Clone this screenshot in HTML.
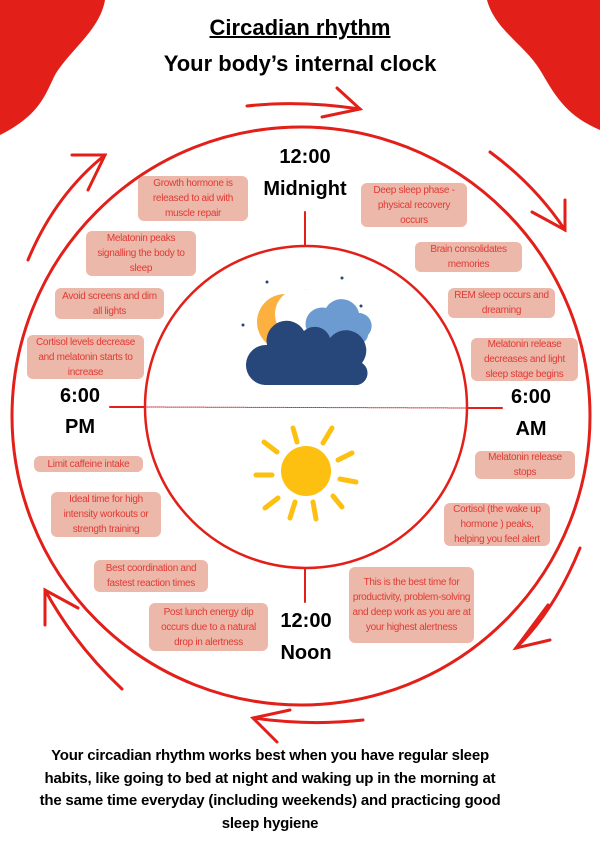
<!DOCTYPE html>
<html><head><meta charset="utf-8"><style>
body{margin:0;width:600px;height:849px;overflow:hidden;background:#fff;font-family:"Liberation Sans",sans-serif;}
svg{position:absolute;left:0;top:0}
.b{position:absolute;background:#ebb8a9;border-radius:6px;color:#e23a35;font-size:10px;line-height:15px;text-align:center;display:flex;align-items:center;justify-content:center;box-sizing:border-box;padding:0 2px;letter-spacing:-0.3px}
.t{position:absolute;font-weight:900;font-size:20px;color:#000;text-align:center;width:120px;margin-left:-60px}
</style></head><body>
<svg width="600" height="849" viewBox="0 0 600 849">
<path d="M0 0H105C100 30 70 50 55 75C45 95 40 115 0 135Z" fill="#e21f18"/>
<path d="M600 0H487C495 30 525 45 540 70C555 95 565 115 600 130Z" fill="#e21f18"/>
<g fill="none" stroke="#e21f18" stroke-linecap="round">
<circle cx="301" cy="416" r="289" stroke-width="3"/>
<circle cx="306" cy="407" r="161" stroke-width="2.5"/>
<line x1="305" y1="212" x2="305" y2="246" stroke-width="2"/>
<line x1="305" y1="568" x2="305" y2="602" stroke-width="2"/>
<line x1="110" y1="407" x2="145" y2="407" stroke-width="2"/>
<line x1="468" y1="408" x2="502" y2="408" stroke-width="2"/>
<line x1="145" y1="407" x2="468" y2="408" stroke-width="1" stroke-dasharray="1 1" stroke="#c33"/>
<g stroke-width="3">
<path d="M247 106Q300 100 360 109"/><path d="M337 88L360 109L322 117"/>
<path d="M490 152Q535 185 565 230"/><path d="M565 200L565 230L532 212"/>
<path d="M28 260Q55 195 105 155"/><path d="M72 155L105 155L88 190"/>
<path d="M122 689Q75 645 45 590"/><path d="M45 625L45 590L78 608"/>
<path d="M580 548Q555 610 516 648"/><path d="M548 605L516 648L550 640"/>
<path d="M363 720Q310 726 253 718"/><path d="M290 710L253 718L277 742"/>
</g></g>
<g fill="#27467a"><circle cx="267" cy="282" r="1.5"/><circle cx="305" cy="291" r="1.5"/><circle cx="342" cy="278" r="1.5"/><circle cx="361" cy="306" r="1.5"/><circle cx="243" cy="325" r="1.5"/></g>
<circle cx="285" cy="322" r="28" fill="#fbb040"/><circle cx="300" cy="314" r="25" fill="#fff"/>
<path d="M318 340a16 16 0 0 1 8-32a18 18 0 0 1 33 5a13 13 0 0 1 9 22a10 10 0 0 1-10 9h-36Z" fill="#6c9bd2"/>
<path d="M265 385a20 20 0 0 1 2-40a20 20 0 0 1 37-14a16 16 0 0 1 26 7a18 18 0 0 1 32 25a12 12 0 0 1-8 22Z" fill="#27467a"/>
<circle cx="306" cy="471" r="25" fill="#fdc010"/>
<g stroke="#fdc010" stroke-width="5" stroke-linecap="round">
<line x1="293" y1="428" x2="297" y2="442"/><line x1="332" y1="428" x2="323" y2="443"/>
<line x1="264" y1="442" x2="277" y2="452"/><line x1="352" y1="453" x2="338" y2="460"/>
<line x1="256" y1="475" x2="272" y2="475"/><line x1="340" y1="479" x2="356" y2="482"/>
<line x1="265" y1="508" x2="278" y2="498"/><line x1="333" y1="496" x2="342" y2="507"/>
<line x1="295" y1="502" x2="290" y2="518"/><line x1="313" y1="502" x2="316" y2="519"/>
</g>
</svg>
<div style="position:absolute;left:0;width:600px;top:15px;text-align:center;font-weight:900;font-size:22px;"><span style="text-decoration:underline;text-decoration-thickness:2px">Circadian rhythm</span></div>
<div style="position:absolute;left:0;width:600px;top:51px;text-align:center;font-weight:bold;font-size:22px;">Your body’s internal clock</div>
<div class="t" style="left:305px;top:146px">12:00</div>
<div class="t" style="left:305px;top:178px">Midnight</div>
<div class="t" style="left:80px;top:385px">6:00</div>
<div class="t" style="left:80px;top:416px">PM</div>
<div class="t" style="left:531px;top:386px">6:00</div>
<div class="t" style="left:531px;top:418px">AM</div>
<div class="t" style="left:306px;top:610px">12:00</div>
<div class="t" style="left:306px;top:642px">Noon</div>
<div class="b" style="left:138px;top:176px;width:110px;height:45px">Growth hormone is released to aid with muscle repair</div>
<div class="b" style="left:361px;top:183px;width:106px;height:44px">Deep sleep phase - physical recovery occurs</div>
<div class="b" style="left:86px;top:231px;width:110px;height:45px">Melatonin peaks signalling the body to sleep</div>
<div class="b" style="left:415px;top:242px;width:107px;height:30px">Brain consolidates memories</div>
<div class="b" style="left:55px;top:288px;width:109px;height:31px">Avoid screens and dim all lights</div>
<div class="b" style="left:448px;top:288px;width:107px;height:30px">REM sleep occurs and dreaming</div>
<div class="b" style="left:27px;top:335px;width:117px;height:44px">Cortisol levels decrease and melatonin starts to increase</div>
<div class="b" style="left:471px;top:338px;width:107px;height:43px">Melatonin release decreases and light sleep stage begins</div>
<div class="b" style="left:34px;top:456px;width:109px;height:16px">Limit  caffeine intake</div>
<div class="b" style="left:475px;top:451px;width:100px;height:28px">Melatonin release stops</div>
<div class="b" style="left:51px;top:492px;width:110px;height:45px">Ideal time for high intensity workouts or strength training</div>
<div class="b" style="left:444px;top:503px;width:106px;height:43px">Cortisol (the wake up hormone ) peaks, helping you feel alert</div>
<div class="b" style="left:94px;top:560px;width:114px;height:32px">Best  coordination and fastest reaction times</div>
<div class="b" style="left:349px;top:567px;width:125px;height:76px">This is the best time for productivity, problem-solving and deep work as you are at your highest alertness</div>
<div class="b" style="left:149px;top:603px;width:119px;height:48px">Post lunch energy dip occurs due to  a natural drop in alertness</div>
<div style="position:absolute;left:0;width:540px;top:745px;text-align:center;font-weight:bold;font-size:15px;line-height:22.5px;letter-spacing:-0.2px;white-space:nowrap">Your circadian rhythm works best when you have regular sleep<br>habits, like going to bed at night and waking up in the morning at<br>the same time everyday (including weekends) and practicing good<br>sleep hygiene</div>
</body></html>
